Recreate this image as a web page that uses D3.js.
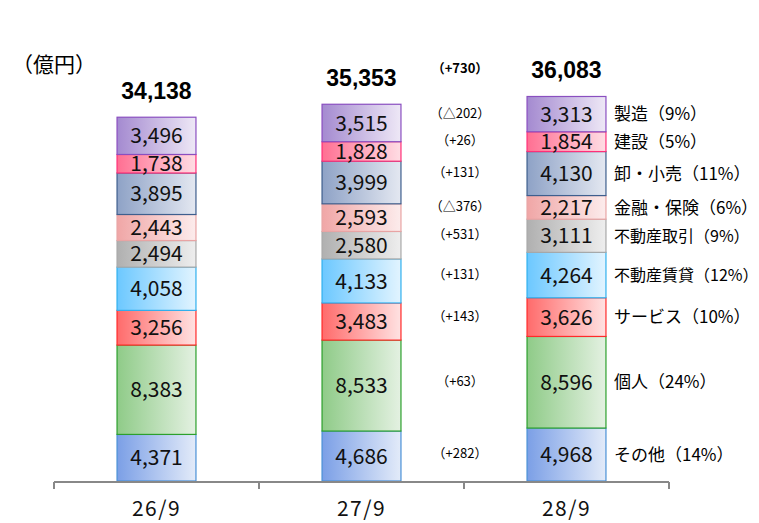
<!DOCTYPE html>
<html>
<head>
<meta charset="utf-8">
<script src="https://cdn.jsdelivr.net/npm/d3@7"></script>
<style>
  body { margin: 0; background: #fff; }
  svg text { font-family: "Noto Sans CJK JP", sans-serif; }
</style>
</head>
<body>
<svg class="chart"></svg>
<script>
// data (bottom to top)
const periods = ["26/9", "27/9", "28/9"]
const sectors = ["その他", "個人", "サービス", "不動産賃貸", "不動産取引", "金融・保険", "卸・小売", "建設", "製造"]
const shares = ["14%", "24%", "10%", "12%", "9%", "6%", "11%", "5%", "9%"]
const values26 = [4371, 8383, 3256, 4058, 2494, 2443, 3895, 1738, 3496]
const values27 = [4686, 8533, 3483, 4133, 2580, 2593, 3999, 1828, 3515]
const values28 = [4968, 8596, 3626, 4264, 3111, 2217, 4130, 1854, 3313]
const totals = [34138, 35353, 36083]
const changes = ["（+282）", "（+63）", "（+143）", "（+131）", "（+531）", "（△376）", "（+131）", "（+26）", "（△202）"]
const totalChange = "（+730）"

const colors = [
  {from: "#7b9fe6", to: "#e3ebf9", stroke: "#4a90d6"},
  {from: "#8fcb88", to: "#e4f1e2", stroke: "#2ca02c"},
  {from: "#ff6b6b", to: "#ffe2e2", stroke: "#ff2a2a"},
  {from: "#6cc8ff", to: "#e2f4ff", stroke: "#2fb0ee"},
  {from: "#b0b0b0", to: "#eeeeee", stroke: "#a8a8a8"},
  {from: "#f0a6a6", to: "#fcecec", stroke: "#e8a4a4"},
  {from: "#8ea2c6", to: "#e4e8f1", stroke: "#3e5f8e"},
  {from: "#ff6f92", to: "#ffdde4", stroke: "#ff2f78"},
  {from: "#a48ad0", to: "#eee8f6", stroke: "#8a4fc0"}
]

const width = 759, height = 523
const baseY = 481

let svg = d3.select(".chart")
    .attr("width", width)
    .attr("height", height)

let x = d3.scaleBand()
    .domain(periods)
    .range([54, 669])
    .padding(0)
let y = d3.scaleLinear()
    .domain([0, 36500])
    .range([baseY, 92])
let barW = x.bandwidth() * 0.385

let defs = svg.append("defs")
colors.forEach(function(c, i) {
  let g = defs.append("linearGradient")
      .attr("id", "grad" + i)
      .attr("x1", "0").attr("x2", "1").attr("y1", "0").attr("y2", "0")
  g.append("stop").attr("offset", "0").attr("stop-color", c.from)
  g.append("stop").attr("offset", "1").attr("stop-color", c.to)
})

let allValues = [values26, values27, values28]

allValues.forEach(function(vals, p) {
  let cx = x(periods[p]) + x.bandwidth() / 2
  let stacked = []
  let acc = 0
  vals.forEach(function(v, i) {
    stacked.push({i: i, v: v, y0: acc, y1: acc + v})
    acc += v
  })
  let g = svg.append("g")
  g.selectAll("rect")
    .data(stacked)
  .enter().append("rect")
    .attr("x", cx - barW / 2)
    .attr("y", function(d) { return y(d.y1) })
    .attr("width", barW)
    .attr("height", function(d) { return y(d.y0) - y(d.y1) })
    .attr("fill", function(d) { return "url(#grad" + d.i + ")" })
    .attr("stroke", function(d) { return colors[d.i].stroke })
    .attr("stroke-width", 1.2)
  g.selectAll("text.val")
    .data(stacked)
  .enter().append("text")
    .attr("class", "val")
    .attr("x", cx)
    .attr("y", function(d) { return (y(d.y0) + y(d.y1)) / 2 })
    .attr("dy", "0.36em")
    .attr("text-anchor", "middle")
    .style("font-size", "21px")
    .style("fill", "#111")
    .text(function(d) { return d3.format(",")(d.v) })

  svg.append("text")
      .attr("x", cx)
      .attr("y", y(totals[p]) - 18)
      .attr("text-anchor", "middle")
      .style("font-family", "'Liberation Sans', Arial, sans-serif")
      .style("font-weight", "bold")
      .style("font-size", "23px")
      .text(d3.format(",")(totals[p]))
})

// labels next to the last bar
let last = []
let acc3 = 0
values28.forEach(function(v, i) { last.push({i: i, mid: acc3 + v / 2}); acc3 += v })

svg.selectAll("text.chg")
    .data(last)
  .enter().append("text")
    .attr("class", "chg")
    .attr("x", 460)
    .attr("y", function(d) { return y(d.mid) - 1 })
    .attr("dy", "0.36em")
    .attr("text-anchor", "middle")
    .style("font-size", "13px")
    .text(function(d) { return changes[d.i] })

svg.append("text")
    .attr("x", 460)
    .attr("y", y(totals[2]) - 28)
    .attr("dy", "0.36em")
    .attr("text-anchor", "middle")
    .style("font-size", "13px")
    .style("font-weight", "bold")
    .text(totalChange)

svg.selectAll("text.cat")
    .data(last)
  .enter().append("text")
    .attr("class", "cat")
    .attr("x", 614)
    .attr("y", function(d) { return y(d.mid) })
    .attr("dy", "0.36em")
    .style("font-size", function(d) { return sectors[d.i] == "不動産取引" || sectors[d.i] == "不動産賃貸" ? "16px" : "17px" })
    .text(function(d) { return sectors[d.i] + "（" + shares[d.i] + "）" })

// axis
let xAxis = d3.axisBottom(x).tickSize(0).tickPadding(20)
let ax = svg.append("g")
    .attr("transform", "translate(0," + baseY + ")")
    .call(xAxis)
ax.select(".domain").remove()
ax.selectAll("text")
    .style("font-family", "'Noto Sans CJK JP', sans-serif")
    .style("font-size", "21px")
    .style("letter-spacing", "1.5px")
    .style("fill", "#111")

let bounds = periods.map(function(p) { return x(p) }).concat([x.range()[1]])
svg.append("line")
    .attr("x1", x.range()[0]).attr("x2", x.range()[1])
    .attr("y1", baseY + 1).attr("y2", baseY + 1)
    .attr("stroke", "#888").attr("stroke-width", 2)
svg.selectAll("line.tick")
    .data(bounds)
  .enter().append("line")
    .attr("class", "tick")
    .attr("x1", function(d) { return d }).attr("x2", function(d) { return d })
    .attr("y1", baseY + 1).attr("y2", baseY + 8)
    .attr("stroke", "#888").attr("stroke-width", 2)

svg.append("text")
    .attr("x", 12)
    .attr("y", 72)
    .style("font-size", "21px")
    .text("（億円）")
</script>
</body>
</html>
